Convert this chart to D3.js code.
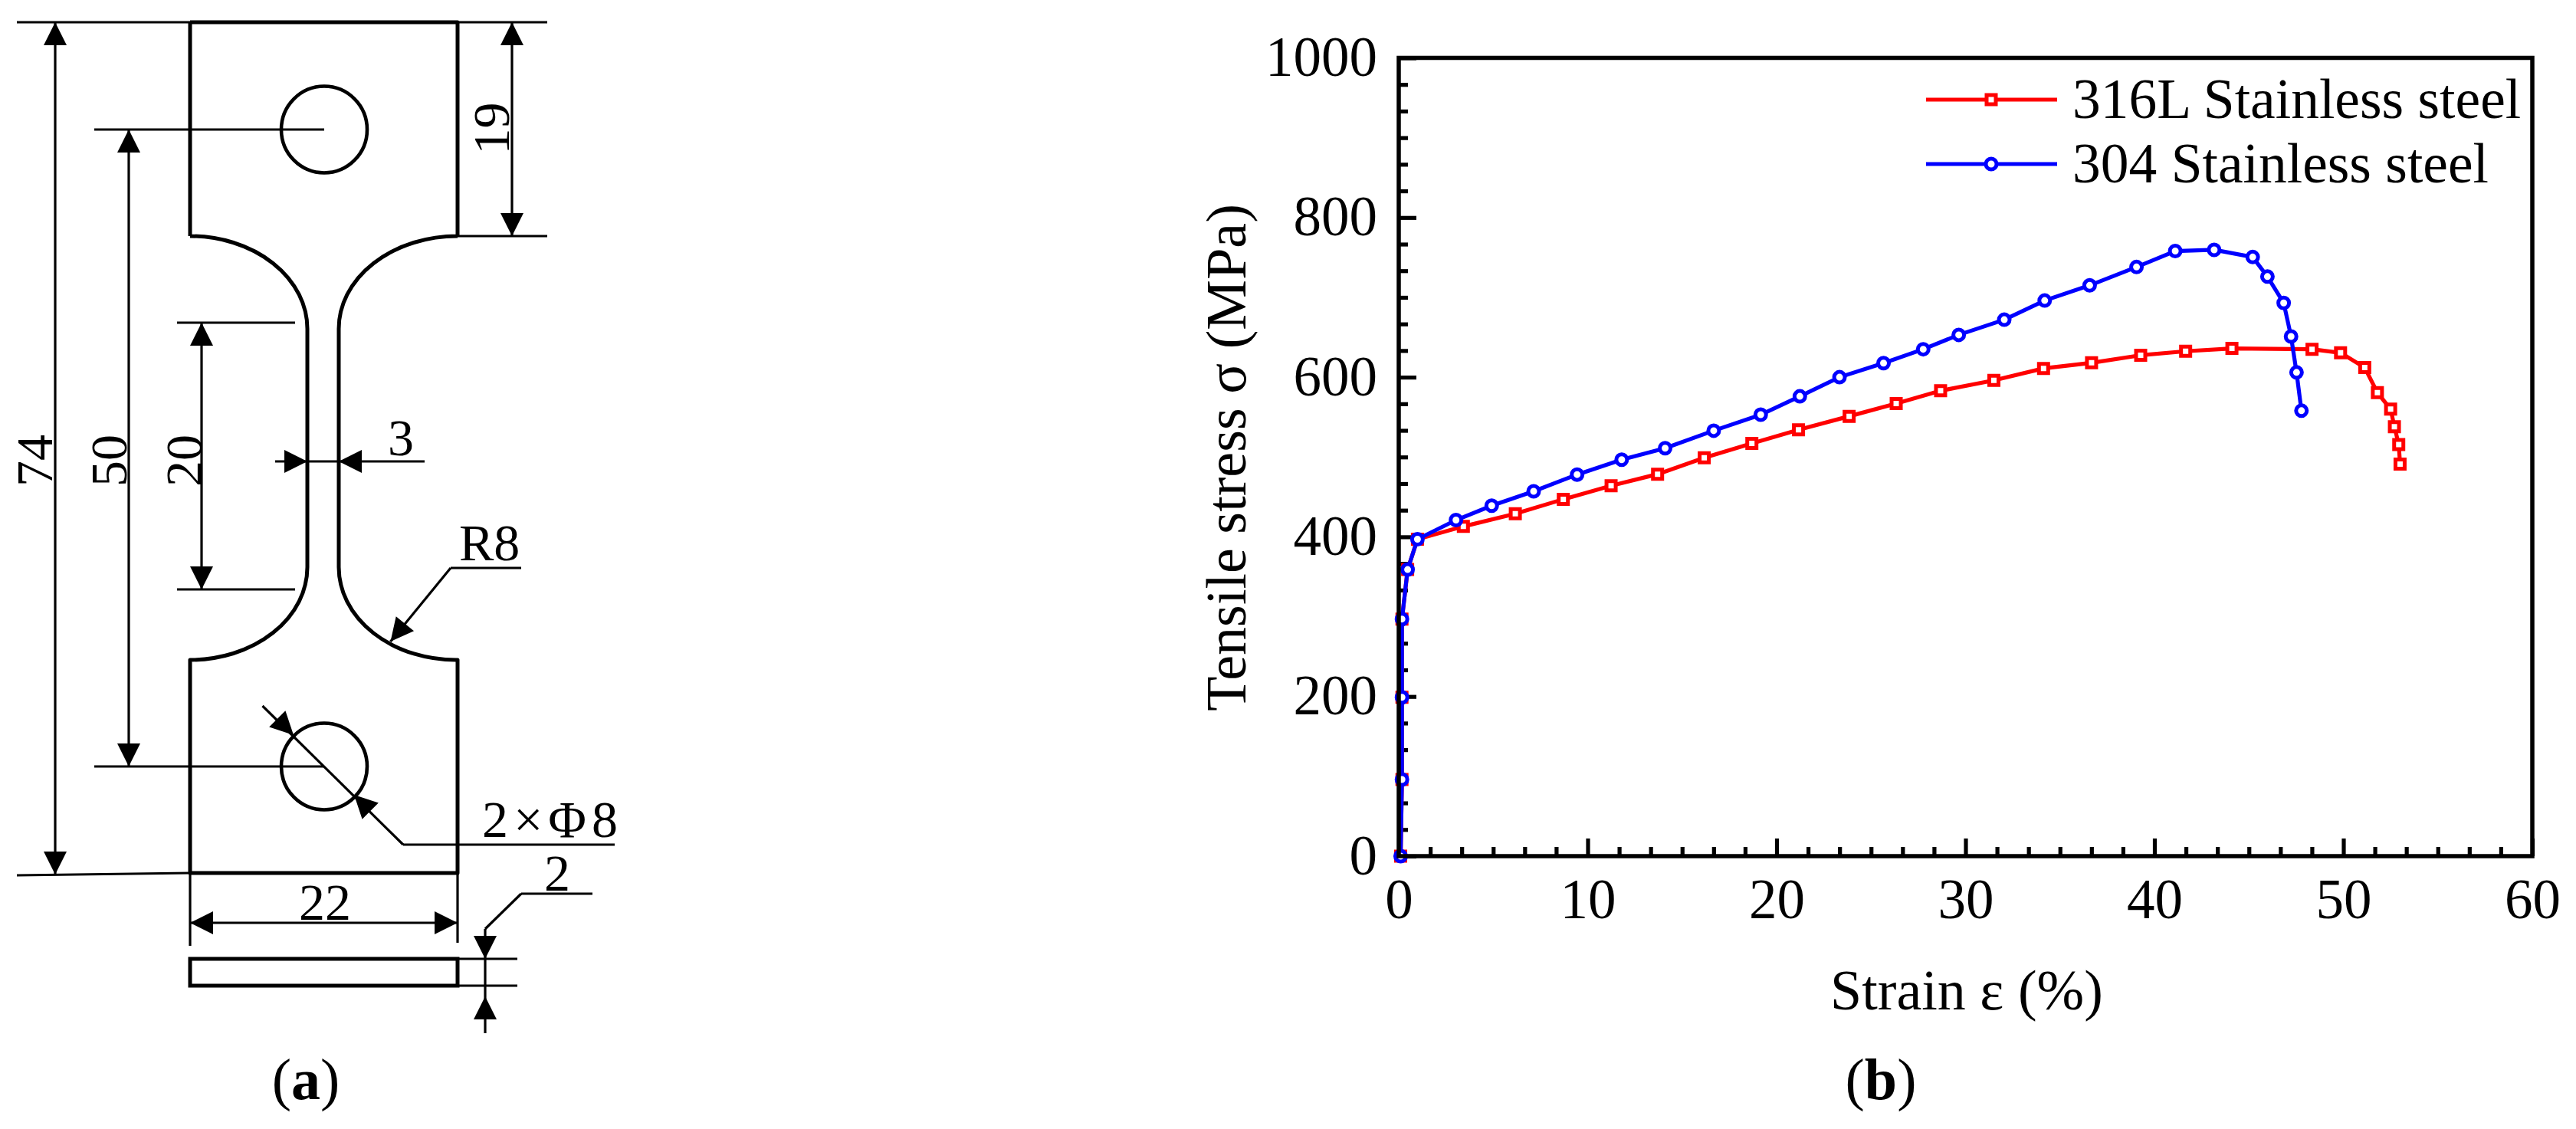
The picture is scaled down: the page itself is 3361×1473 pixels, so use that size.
<!DOCTYPE html>
<html>
<head>
<meta charset="utf-8">
<script src="https://cdn.jsdelivr.net/npm/d3@7/dist/d3.min.js"></script>
<style>
  html, body { margin: 0; padding: 0; background: #fff; }
  svg { display: block; }
  text { font-family: "Liberation Serif", serif; fill: #000; }
</style>
</head>
<body>
<div id="chart"></div>
<script>
// stress-strain data, panel (b)
const strain316 = [0.1, 0.17, 0.17, 0.17, 0.47, 0.99, 3.42, 6.17, 8.71, 11.24, 13.7, 16.17, 18.69, 21.16, 23.84, 26.33, 28.68, 31.5, 34.13, 36.67, 39.27, 41.65, 44.1, 48.34, 49.85, 51.13, 51.8, 52.5, 52.7, 52.93, 53.0];
const stress316 = [0, 96, 199, 297, 359, 397, 413, 429, 447, 464, 478.5, 499, 517, 534, 551, 567, 583, 596, 611, 618, 627.5, 632.5, 636, 635, 630.5, 612, 580.6, 560, 538, 515.6, 491];
const strain304 = [0.1, 0.17, 0.17, 0.17, 0.47, 0.99, 3.03, 4.92, 7.14, 9.44, 11.8, 14.1, 16.67, 19.16, 21.23, 23.33, 25.66, 27.76, 29.64, 32.05, 34.19, 36.57, 39.05, 41.1, 43.16, 45.2, 45.98, 46.84, 47.23, 47.52, 47.78];
const stress304 = [0, 96, 199, 297, 359, 397, 421, 439, 457, 478, 496.6, 511, 533, 553, 576, 600, 617.6, 635, 653, 672, 696, 715, 738, 758, 759.5, 750.5, 726, 693, 651, 606, 558];
const seriesNames = ["316L Stainless steel", "304 Stainless steel"];
const xTicks = [0, 10, 20, 30, 40, 50, 60];
const yTicks = [0, 200, 400, 600, 800, 1000];

const width = 3361;
const height = 1473;
const plot = { left: 1825, right: 3304, top: 75.5, bottom: 1117 };

const svg = d3.select("#chart").append("svg")
  .attr("width", width)
  .attr("height", height)
  .attr("viewBox", `0 0 ${width} ${height}`);

// ---- panel (b) ----
const x = d3.scaleLinear().domain([0, 60]).range([plot.left, plot.right]);
const y = d3.scaleLinear().domain([0, 1000]).range([plot.bottom, plot.top]);

const xMinor = d3.range(0, 60.01, 10 / 6).filter(v => Math.round(v * 6) % 60 !== 0);
const yMinor = d3.range(0, 1000.01, 200 / 6).filter(v => Math.round(v * 6) % 1200 !== 0);

function styleAxis(g) {
  g.select(".domain").remove();
  g.selectAll("line").attr("stroke", "#000").attr("stroke-width", 5.2);
  g.selectAll("text").attr("font-size", 73).attr("font-family", "Liberation Serif");
}

svg.append("g").attr("transform", `translate(0,${plot.bottom})`)
  .call(d3.axisBottom(x).tickValues(xMinor).tickSize(-12).tickFormat(""))
  .call(styleAxis);
svg.append("g").attr("transform", `translate(0,${plot.bottom})`)
  .call(d3.axisBottom(x).tickValues(xTicks).tickSize(-23).tickPadding(0).tickFormat(d3.format("d")))
  .call(styleAxis)
  .selectAll("text").attr("dy", 0).attr("y", 81);

svg.append("g").attr("transform", `translate(${plot.left},0)`)
  .call(d3.axisLeft(y).tickValues(yMinor).tickSize(-12).tickFormat(""))
  .call(styleAxis);
svg.append("g").attr("transform", `translate(${plot.left},0)`)
  .call(d3.axisLeft(y).tickValues(yTicks).tickSize(-23).tickFormat(d3.format("d")))
  .call(styleAxis)
  .selectAll("text").attr("x", -28).attr("dy", 0).attr("y", 23);

const line = d3.line().x(d => x(d[0])).y(d => y(d[1]));
const pts316 = strain316.map((v, i) => [v, stress316[i]]);
const pts304 = strain304.map((v, i) => [v, stress304[i]]);

function squareMark(sel) {
  sel.attr("fill", "#fff").attr("stroke", "#f00").attr("stroke-width", 5)
    .attr("d", d3.symbol(d3.symbolSquare, 144));
}
function circleMark(sel) {
  sel.attr("fill", "#fff").attr("stroke", "#00f").attr("stroke-width", 5)
    .attr("d", d3.symbol(d3.symbolCircle, Math.PI * 49));
}

svg.append("path").datum(pts316).attr("d", line)
  .attr("fill", "none").attr("stroke", "#f00").attr("stroke-width", 5.2);
svg.append("g").selectAll("path").data(pts316).join("path")
  .attr("transform", d => `translate(${x(d[0])},${y(d[1])})`).call(squareMark);
svg.append("path").datum(pts304).attr("d", line)
  .attr("fill", "none").attr("stroke", "#00f").attr("stroke-width", 5.2);
svg.append("g").selectAll("path").data(pts304).join("path")
  .attr("transform", d => `translate(${x(d[0])},${y(d[1])})`).call(circleMark);

// frame goes over the data, the first markers sit under the axis lines
svg.append("rect")
  .attr("x", plot.left).attr("y", plot.top)
  .attr("width", plot.right - plot.left).attr("height", plot.bottom - plot.top)
  .attr("fill", "none").attr("stroke", "#000").attr("stroke-width", 5.5);

// legend
const legend = svg.append("g");
[[130, "#f00", squareMark], [214, "#00f", circleMark]].forEach(([ly, color, mark], i) => {
  legend.append("line").attr("x1", 2513).attr("x2", 2684).attr("y1", ly).attr("y2", ly)
    .attr("stroke", color).attr("stroke-width", 5.2);
  legend.append("path").attr("transform", `translate(2598,${ly})`).call(mark);
  legend.append("text").attr("x", 2704).attr("y", ly + 24).attr("font-size", 73.5).text(seriesNames[i]);
});

svg.append("text").attr("x", 2566).attr("y", 1317).attr("text-anchor", "middle")
  .attr("font-size", 74).text("Strain ε (%)");
svg.append("text").attr("transform", "translate(1625,597) rotate(-90)").attr("text-anchor", "middle")
  .attr("font-size", 74).text("Tensile stress σ (MPa)");

function caption(cx, letter) {
  const t = svg.append("text").attr("x", cx).attr("y", 1434).attr("text-anchor", "middle").attr("font-size", 76);
  t.append("tspan").text("(");
  t.append("tspan").attr("font-weight", "bold").text(letter);
  t.append("tspan").text(")");
}
caption(399, "a");
caption(2454, "b");

// ---- panel (a): specimen drawing ----
const sketch = svg.append("g").attr("fill", "none").attr("stroke", "#000");

const outline = d3.path();
outline.moveTo(248, 29);
outline.lineTo(597, 29);
outline.lineTo(597, 308);
outline.moveTo(248, 29);
outline.lineTo(248, 308);
sketch.append("path").attr("d", outline.toString() +
  " M248,308 A153,121 0 0 1 401,429 L401,740 A153,121 0 0 1 248,861 L248,1139 L597,1139 L597,861" +
  " A153,121 0 0 1 442,740 L442,429 A155,121 0 0 1 597,308")
  .attr("stroke-width", 5).attr("stroke-linejoin", "round");

sketch.selectAll("ellipse").data([169, 1000]).join("ellipse")
  .attr("cx", 423).attr("cy", d => d).attr("rx", 56).attr("ry", 56.5).attr("stroke-width", 4.6);
sketch.append("rect").attr("x", 248).attr("y", 1251).attr("width", 349).attr("height", 35).attr("stroke-width", 5);

// dimension and extension lines: [x1, y1, x2, y2]
const thinLines = [
  [22, 29, 714, 29], [597, 308, 714, 308],
  [72, 29, 72, 1141], [168, 169, 168, 1000], [668, 29, 668, 308], [263, 421, 263, 769],
  [123, 169, 423, 169], [123, 1000, 423, 1000],
  [231, 421, 385, 421], [231, 769, 385, 769],
  [359, 602, 554, 602],
  [22, 1142, 248, 1139],
  [248, 1139, 248, 1234], [597, 1139, 597, 1230], [248, 1204, 597, 1204],
  [597, 1251, 675, 1251], [597, 1286, 675, 1286],
  [633, 1212, 633, 1348], [633, 1212, 680, 1166], [680, 1166, 773, 1166],
  [342.5, 921, 526, 1102], [526, 1102, 802, 1102],
  [588, 741, 680, 741], [588, 741, 509.5, 837]
];
sketch.selectAll("line").data(thinLines).join("line")
  .attr("x1", d => d[0]).attr("y1", d => d[1]).attr("x2", d => d[2]).attr("y2", d => d[3])
  .attr("stroke-width", 3.2);

// arrowheads: [tipX, tipY, direction in degrees]
const arrows = [
  [72, 29, -90], [72, 1141, 90], [168, 169, -90], [168, 1000, 90],
  [668, 29, -90], [668, 308, 90], [263, 421, -90], [263, 769, 90],
  [401, 602, 0], [442, 602, 180],
  [248, 1204, 180], [597, 1204, 0],
  [633, 1251, 90], [633, 1300, -90],
  [383, 959, 45], [462, 1037, -135],
  [509.5, 837, 129]
];
const arrowHead = "M0,0 L-30,-15 L-30,15 Z";
svg.append("g").selectAll("path").data(arrows).join("path")
  .attr("d", arrowHead)
  .attr("transform", d => `translate(${d[0]},${d[1]}) rotate(${d[2]})`)
  .attr("fill", "#000");

const uprightLabels = [["3", 523, 594, "middle"], ["R8", 599, 731, "start"], ["22", 424, 1200, "middle"], ["2", 727, 1162, "middle"]];
svg.append("g").selectAll("text").data(uprightLabels).join("text")
  .attr("x", d => d[1]).attr("y", d => d[2]).attr("text-anchor", d => d[3])
  .attr("font-size", 68).text(d => d[0]);
svg.append("text").attr("x", 629).attr("y", 1092).attr("font-size", 68)
  .attr("letter-spacing", 7).text("2×Φ8");

const rotatedLabels = [["74", 68, 601], ["50", 165, 601], ["20", 263, 601], ["19", 664, 167.5]];
svg.append("g").selectAll("text").data(rotatedLabels).join("text")
  .attr("transform", d => `translate(${d[1]},${d[2]}) rotate(-90)`)
  .attr("text-anchor", "middle").attr("font-size", 68).text(d => d[0]);
</script>
</body>
</html>
